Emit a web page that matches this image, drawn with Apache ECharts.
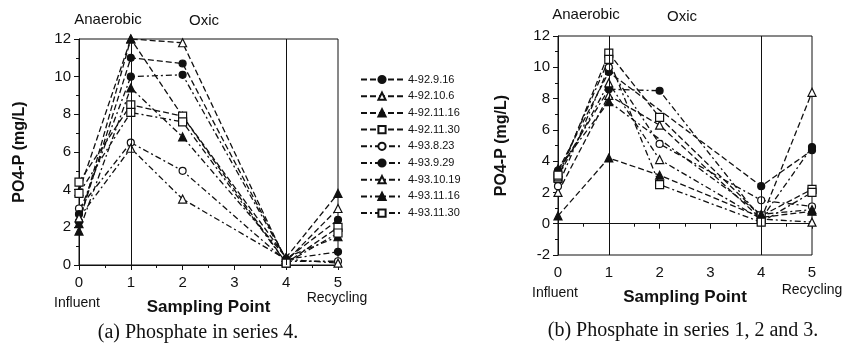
<!DOCTYPE html>
<html>
<head>
<meta charset="utf-8">
<script src="https://cdn.jsdelivr.net/npm/echarts@6/dist/echarts.min.js"></script>
<style>
    html, body {margin: 0; padding: 0; background: #fff;}
    #main {width: 854px; height: 352px;}
</style>
</head>
<body>
<div id="main"></div>
<script>
// sampling points on the x axis
const samplingPoints = [0, 1, 2, 4, 5];
const seriesNames = ['4-92.9.16', '4-92.10.6', '4-92.11.16', '4-92.11.30', '4-93.8.23',
    '4-93.9.29', '4-93.10.19', '4-93.11.16', '4-93.11.30'];

// (a) series 4, PO4-P mg/L
const a_92_9_16 = [2.3, 11.0, 10.7, 0.3, 2.4];
const a_92_10_6 = [3.9, 12.0, 11.8, 0.2, 3.0];
const a_92_11_16 = [2.2, 12.0, 7.9, 0.4, 3.8];
const a_92_11_30 = [4.4, 8.5, 7.9, 0.1, 2.0];
const a_93_8_23 = [3.0, 6.5, 5.0, 0.2, 0.2];
const a_93_9_29 = [2.7, 10.0, 10.1, 0.3, 0.7];
const a_93_10_19 = [2.5, 6.2, 3.5, 0.3, 0.1];
const a_93_11_16 = [1.8, 9.4, 6.8, 0.4, 1.5];
const a_93_11_30 = [3.8, 8.1, 7.6, 0.1, 1.7];

// (b) series 1, 2 and 3
const b_1 = [3.4, 9.7, null, 2.4, 4.7];
const b_2 = [2.0, 8.2, 6.3, 0.3, 8.4];
const b_3 = [0.5, 4.2, 3.1, 0.4, 0.8];
const b_4 = [2.9, 10.9, 6.8, 0.5, 2.2];
const b_5 = [2.4, 10.0, 5.1, 1.5, 1.1];
const b_6 = [3.3, 8.6, 8.5, 0.3, 4.9];
const b_7 = [3.0, 9.0, 4.1, 0.3, 0.1];
const b_8 = [3.5, 7.8, null, 0.6, 0.9];
const b_9 = [3.1, 10.5, 2.5, 0.1, 2.0];

const valuesA = [a_92_9_16, a_92_10_6, a_92_11_16, a_92_11_30, a_93_8_23,
    a_93_9_29, a_93_10_19, a_93_11_16, a_93_11_30];
const valuesB = [b_1, b_2, b_3, b_4, b_5, b_6, b_7, b_8, b_9];

const dashed = [6, 3];
const dashDot = [6, 3, 2, 3];
// symbol, filled, dash
const looks = [
    ['circle', true, dashed],
    ['triangle', false, dashed],
    ['triangle', true, dashed],
    ['rect', false, dashed],
    ['circle', false, dashDot],
    ['circle', true, dashDot],
    ['triangle', false, dashDot],
    ['triangle', true, dashDot],
    ['rect', false, dashDot],
];

const font = 'Liberation Sans';

function gen_series(values, idx, axisIdx) {
    let look = looks[idx];
    let s = {
        name: seriesNames[idx],
        type: 'line',
        xAxisIndex: axisIdx,
        yAxisIndex: axisIdx,
        data: samplingPoints.map((x, i) => [x, values[i]]),
        connectNulls: true,
        symbol: look[0],
        symbolSize: look[0] === 'circle' ? 7 : 8,
        color: '#111',
        itemStyle: {
            color: look[1] ? '#111' : '#fff',
            borderColor: '#111',
            borderWidth: 1.2
        },
        lineStyle: {
            color: '#111',
            width: 1.3,
            type: look[2]
        },
        z: 3
    };
    if (idx === 0) {
        s.markLine = {
            silent: true,
            symbol: 'none',
            label: {show: false},
            lineStyle: {color: '#111', width: 1, type: 'solid'},
            data: [{xAxis: 1}, {xAxis: 4}]
        };
    }
    return s;
}

function gen_x_axis(gridIdx) {
    return {
        type: 'value',
        gridIndex: gridIdx,
        min: 0, max: 5, interval: 1,
        axisLine: {lineStyle: {color: '#111'}},
        axisTick: {length: 5, lineStyle: {color: '#111'}},
        minorTick: {show: true, splitNumber: 2, length: 3, lineStyle: {color: '#111'}},
        splitLine: {show: false},
        axisLabel: {color: '#111', fontSize: 15, fontFamily: font, margin: 10},
        name: 'Sampling Point',
        nameLocation: 'middle',
        nameGap: 34,
        nameTextStyle: {color: '#111', fontSize: 17, fontWeight: 'bold', fontFamily: font}
    };
}

function gen_y_axis(gridIdx, min, nameGap) {
    return {
        type: 'value',
        gridIndex: gridIdx,
        min: min, max: 12, interval: 2,
        axisLine: {show: true, lineStyle: {color: '#111'}},
        axisTick: {show: true, length: 5, lineStyle: {color: '#111'}},
        minorTick: {show: true, splitNumber: 2, length: 3, lineStyle: {color: '#111'}},
        splitLine: {show: false},
        axisLabel: {color: '#111', fontSize: 15, fontFamily: font, margin: 8},
        name: 'PO4-P (mg/L)',
        nameLocation: 'middle',
        nameGap: nameGap,
        nameTextStyle: {color: '#111', fontSize: 16, fontWeight: 'bold', fontFamily: font}
    };
}

function txt(x, y, text, size, family, weight) {
    return {
        type: 'text', x: x, y: y,
        style: {
            text: text, fill: '#111',
            font: (weight || 'normal') + ' ' + size + 'px "' + family + '"',
            textAlign: 'center', textVerticalAlign: 'middle'
        }
    };
}

let chart = echarts.init(document.getElementById('main'));

let series = [];
valuesA.forEach((v, i) => series.push(gen_series(v, i, 0)));
valuesB.forEach((v, i) => series.push(gen_series(v, i, 1)));

let option = {
    animation: false,
    backgroundColor: '#fff',
    grid: [
        {left: 79, top: 39, width: 259, height: 226, show: true, borderColor: '#111', borderWidth: 1},
        {left: 558, top: 36, width: 254, height: 219, show: true, borderColor: '#111', borderWidth: 1}
    ],
    xAxis: [gen_x_axis(0), gen_x_axis(1)],
    yAxis: [gen_y_axis(0, 0, 51), gen_y_axis(1, -2, 48)],
    legend: {
        data: seriesNames,
        orient: 'vertical',
        left: 355,
        top: 69,
        itemWidth: 42,
        itemHeight: 9,
        itemGap: 5.7,
        textStyle: {color: '#111', fontSize: 11, fontFamily: font}
    },
    graphic: [
        txt(108, 20, 'Anaerobic', 15, font),
        txt(204, 21, 'Oxic', 15, font),
        txt(77, 303, 'Influent', 14, font),
        txt(337, 298, 'Recycling', 14, font),
        txt(198, 333, '(a) Phosphate in series 4.', 20, 'Liberation Serif'),
        txt(586, 15, 'Anaerobic', 15, font),
        txt(682, 17, 'Oxic', 15, font),
        txt(555, 293, 'Influent', 14, font),
        txt(812, 290, 'Recycling', 14, font),
        txt(683, 331, '(b) Phosphate in series 1, 2 and 3.', 20, 'Liberation Serif')
    ],
    series: series
};

chart.setOption(option);
</script>
</body>
</html>
